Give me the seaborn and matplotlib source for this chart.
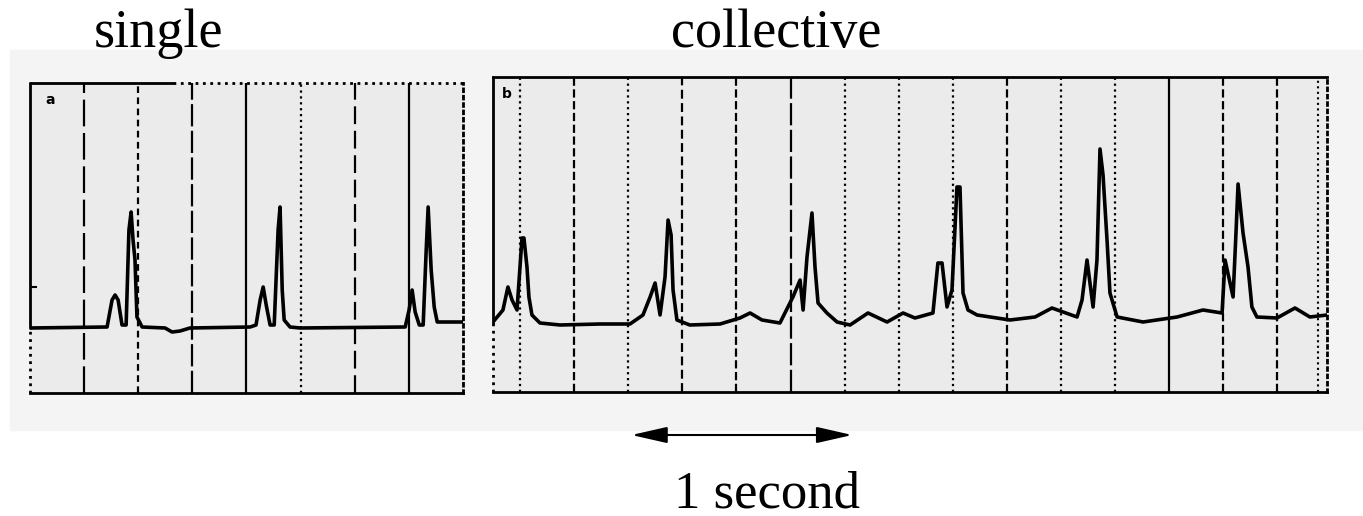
import numpy as np
import pandas as pd
import seaborn as sns
import matplotlib.pyplot as plt
from matplotlib.patches import Rectangle

sns.set_style('white')
plt.rcParams['font.family'] = ['Liberation Serif', 'DejaVu Serif']
plt.rcParams['text.color'] = 'black'

# trace a: single cell (time in s, amplitude in arbitrary units above baseline)
single_t = [0.000, 0.356, 0.379, 0.393, 0.407, 0.425, 0.444, 0.457, 0.467, 0.476,
            0.485, 0.494, 0.518, 0.624, 0.656, 0.693, 0.739, 1.017, 1.044, 1.063,
            1.077, 1.091, 1.109, 1.128, 1.146, 1.155, 1.165, 1.174, 1.201, 1.248,
            1.733, 1.751, 1.765, 1.779, 1.798, 1.816, 1.830, 1.839, 1.853, 1.867,
            1.881, 2.000]
single_a = [-0.1, 0.0, 2.7, 3.2, 2.7, 0.2, 0.2, 9.7, 11.5, 8.7,
            6.7, 1.0, 0.0, -0.1, -0.5, -0.4, -0.1, 0.0, 0.2, 2.7,
            4.0, 2.2, 0.2, 0.2, 9.7, 12.0, 3.7, 0.7, 0.0, -0.1,
            0.0, 1.7, 3.7, 1.5, 0.2, 0.2, 7.7, 12.0, 5.7, 2.0,
            0.5, 0.5]

# trace b: collective
coll_t = [0.000, 0.046, 0.069, 0.088, 0.111, 0.134, 0.143, 0.157, 0.166, 0.180,
          0.217, 0.310, 0.494, 0.633, 0.693, 0.726, 0.749, 0.772, 0.795, 0.809,
          0.823, 0.832, 0.850, 0.910, 1.049, 1.141, 1.188, 1.243, 1.326, 1.386,
          1.419, 1.433, 1.451, 1.474, 1.488, 1.502, 1.543, 1.590, 1.650, 1.733,
          1.821, 1.895, 1.950, 2.033, 2.056, 2.075, 2.098, 2.121, 2.144, 2.158,
          2.172, 2.195, 2.237, 2.389, 2.505, 2.583, 2.699, 2.722, 2.745, 2.773,
          2.791, 2.805, 2.819, 2.838, 2.851, 2.884, 3.004, 3.161, 3.281, 3.369,
          3.383, 3.420, 3.434, 3.443, 3.466, 3.489, 3.507, 3.530, 3.623, 3.706,
          3.775, 3.854]
coll_a = [0.0, 1.2, 3.5, 2.2, 1.2, 8.4, 8.4, 5.5, 2.5, 0.7,
          -0.1, -0.3, -0.2, -0.2, 0.7, 2.5, 3.9, 0.7, 4.5, 10.2,
          8.7, 3.2, 0.2, -0.3, -0.2, 0.4, 0.9, 0.2, -0.1, 2.5,
          4.2, 1.2, 6.5, 10.9, 5.5, 1.9, 0.9, 0.0, -0.3, 0.9,
          0.0, 0.9, 0.4, 0.9, 5.9, 5.9, 1.5, 3.2, 13.5, 13.5,
          2.9, 1.2, 0.7, 0.2, 0.5, 1.4, 0.5, 2.2, 6.2, 1.5,
          6.2, 17.3, 14.7, 8.0, 2.9, 0.5, 0.0, 0.5, 1.2, 0.9,
          6.2, 2.5, 9.2, 13.8, 8.9, 5.5, 1.5, 0.5, 0.4, 1.4,
          0.5, 0.7]

titles = ['single', 'collective']
panel_tags = ['a', 'b']
scale_label = '1 second'

single = pd.DataFrame({'t': single_t, 'a': single_a})
coll = pd.DataFrame({'t': coll_t, 'a': coll_a})

# grid line styles, roughly as they come out of the scan
single_grid_ls = [(0, (12, 3)), (0, (3, 2)), (0, (10, 2)), '-', ':', (0, (8, 3)), '-']
coll_grid_ls = [':', '--', ':', (0, (4, 2)), '--', (0, (10, 2)), ':', ':',
                ':', '--', ':', ':', '-', '--', '--']

W, H = 1363, 516
fig = plt.figure(figsize=(W / 100, H / 100), dpi=100, facecolor='white')
fig.add_artist(Rectangle((10 / W, 1 - 430 / H), 1 - 10 / W, 380 / H,
                         transform=fig.transFigure, color='#f4f4f4', zorder=0))

ax1 = fig.add_axes([30 / W, 1 - 393 / H, 433 / W, 310 / H])
ax2 = fig.add_axes([493 / W, 1 - 392 / H, 834 / W, 315 / H])

for ax, df, xmax, ylim, ticks, styles in [
        (ax1, single, 2.0, (-6.6, 24.4), np.arange(0.25, 2.0, 0.25), single_grid_ls),
        (ax2, coll, 3.854, (-7.0, 24.5), np.arange(0.125, 3.8, 0.25), coll_grid_ls)]:
    ax.set_facecolor('#ebebeb')
    sns.lineplot(data=df, x='t', y='a', ax=ax, color='black', lw=2.6,
                 estimator=None, sort=False)
    ax.set_xlim(0, xmax)
    ax.set_ylim(*ylim)
    ax.set_xticks(ticks)
    ax.grid(axis='x', color='black', lw=1.6)
    ax.grid(axis='y', visible=False)
    for gl, ls in zip(ax.get_xgridlines(), styles):
        gl.set_linestyle(ls)
    ax.tick_params(axis='x', length=0, labelbottom=False)
    ax.set_xlabel('')
    ax.set_ylabel('')
    for s in ax.spines.values():
        s.set_color('black')
        s.set_linewidth(2)

# left panel: small tick on the left edge, dotted border parts
ax1.set_yticks([4.0])
ax1.tick_params(axis='y', left=True, direction='in', length=5, width=1.5,
                color='black', labelleft=False)
ax1.spines['top'].set_visible(False)
ax1.axhline(24.4, xmin=0, xmax=0.33, color='black', lw=2, clip_on=False)
ax1.axhline(24.4, xmin=0.33, xmax=1, color='black', lw=2, ls=':', clip_on=False)
ax1.spines['right'].set_linestyle(':')
ax1.spines['left'].set_visible(False)
ax1.axvline(0, ymin=0, ymax=0.21, color='black', lw=2, ls=':', clip_on=False)
ax1.axvline(0, ymin=0.21, ymax=1, color='black', lw=2, clip_on=False)

# right panel
ax2.set_yticks([])
ax2.spines['right'].set_linestyle(':')
ax2.axvline(3.812, color='black', lw=1.5, ls=':')
ax2.spines['left'].set_visible(False)
ax2.axvline(0, ymin=0, ymax=0.22, color='black', lw=2, ls=':', clip_on=False)
ax2.axvline(0, ymin=0.22, ymax=1, color='black', lw=2, clip_on=False)

ax1.text(0.046, 0.945, panel_tags[0], transform=ax1.transAxes, fontsize=10,
         fontweight='bold', family='DejaVu Sans', va='center', ha='center')
ax2.text(0.016, 0.945, panel_tags[1], transform=ax2.transAxes, fontsize=10,
         fontweight='bold', family='DejaVu Sans', va='center', ha='center')

fig.text(158 / W, 1 - 47 / H, titles[0], fontsize=39, ha='center', va='baseline')
fig.text(776 / W, 1 - 47 / H, titles[1], fontsize=39, ha='center', va='baseline')

# 1 second scale bar under the collective trace
ax2.annotate('', xy=(1.66, 1 - 435 / H), xytext=(0.64, 1 - 435 / H),
             xycoords=('data', 'figure fraction'),
             textcoords=('data', 'figure fraction'),
             arrowprops=dict(arrowstyle='<|-|>,head_length=1.1,head_width=0.25',
                             mutation_scale=20, color='black', lw=1.5,
                             shrinkA=0, shrinkB=0))
fig.text(767 / W, 1 - 507 / H, scale_label, fontsize=38, ha='center', va='baseline')

fig.savefig('out.png', dpi=100, facecolor='white')
